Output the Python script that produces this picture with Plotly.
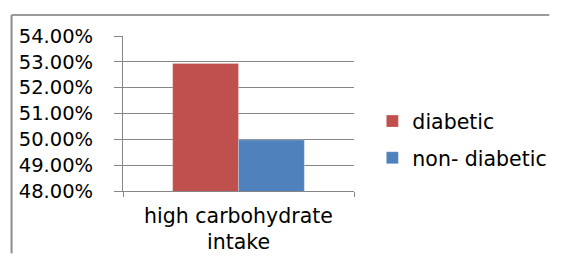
import plotly.graph_objects as go

categories = ["high carbohydrate<br>intake"]
series_names = ["diabetic", "non- diabetic"]
diabetic = [0.5294]
non_diabetic = [0.4998]
colors = ["#C0504D", "#4F81BD"]

W, H = 564, 266
S = 0.977  # observed page-to-screenshot scale
L = round(120 / S)
T = round(35 / S)
R = W - round(354 / S)
B = H - round(195 / S)
pw, ph = W - L - R, H - T - B

def px_x(x):
    return (x - L) / pw

def px_y(y):
    return (H - B - y) / ph

tick_font = dict(family="DejaVu Sans", size=19.5, color="#000000")
cat_font = dict(family="DejaVu Sans", size=20.5, color="#000000")

fig = go.Figure()
for name, vals, col, grp in [(series_names[0], diabetic, colors[0], "a"),
                              (series_names[1], non_diabetic, colors[1], "b")]:
    fig.add_trace(go.Bar(x=categories, y=vals, name=name, legendgroup=grp,
                         marker=dict(color=col, line=dict(color="rgba(255,255,255,0.5)", width=0.5))))

border = [
    dict(type="line", xref="paper", yref="paper", x0=px_x(7.5 / S), x1=px_x(564),
         y0=px_y(13.5 / S), y1=px_y(13.5 / S), line=dict(color="#9a9a9a", width=2), layer="below"),
    dict(type="line", xref="paper", yref="paper", x0=px_x(7.5 / S), x1=px_x(7.5 / S),
         y0=px_y(13.5 / S), y1=px_y(266), line=dict(color="#8c8c8c", width=2), layer="below"),
]

fig.update_layout(
    width=W, height=H,
    margin=dict(l=L, r=R, t=T, b=B, pad=0),
    paper_bgcolor="white", plot_bgcolor="white",
    barmode="group", bargap=0.43, bargroupgap=0,
    font=cat_font,
    showlegend=True,
    legend=dict(x=px_x(381), y=px_y(105), xanchor="left", yanchor="top",
                font=cat_font,
                tracegroupgap=7, traceorder="grouped", bgcolor="rgba(0,0,0,0)"),
    yaxis=dict(range=[0.48, 0.54], dtick=0.01, tick0=0.48, tickformat=".2%",
               showgrid=True, gridcolor="#868686", gridwidth=1,
               showline=True, linecolor="#868686", linewidth=1,
               ticks="outside", ticklen=8, tickcolor="#868686", ticklabelstandoff=17,
               zeroline=False, tickfont=tick_font),
    xaxis=dict(type="category", showgrid=False, showline=True, linecolor="#868686",
               linewidth=1, ticks="outside", ticklen=5, tickcolor="#868686",
               tickson="boundaries", tickfont=cat_font, ticklabelstandoff=6),
    shapes=border,
)

fig.write_html("out.html", config={"displayModeBar": False},
               post_script="document.documentElement.style.margin='0';"
                           "document.body.style.margin='0';"
                           "document.body.style.overflow='hidden';")
